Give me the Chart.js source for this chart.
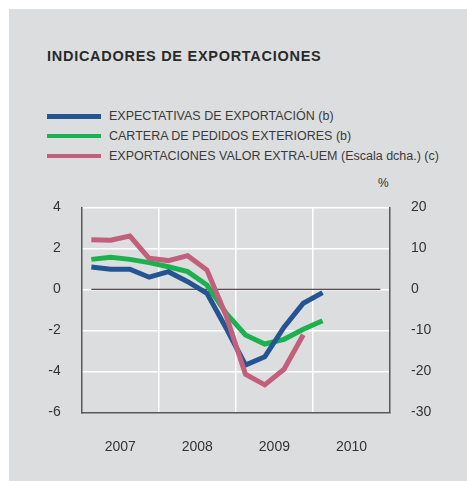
<!DOCTYPE html>
<html>
<head>
<meta charset="utf-8">
<script src="https://cdn.jsdelivr.net/npm/chart.js@4"></script>
<style>
  body { margin: 0; background: #fff; font-family: "Liberation Sans", Arial, sans-serif; color: #333; }
  #panel { position: absolute; left: 9px; top: 9px; width: 458px; height: 472px; background: #dcdddf; }
  .abs { position: absolute; white-space: nowrap; }
  #title { left: 47px; top: 48px; font-size: 14.5px; line-height: 16px; font-weight: bold; letter-spacing: 0.72px; color: #2a2a2a; }
  .row { left: 47px; height: 16px; font-size: 12.5px; line-height: 16px; }
  .row .sw { position: absolute; left: 0; top: 6px; width: 54px; height: 4.5px; }
  .row .tx { position: absolute; left: 62px; top: 0; color: #3a3a3a; }
  #pct { left: 378px; top: 176px; font-size: 12px; line-height: 14px; }
  #chart { position: absolute; left: 9px; top: 190px; }
</style>
</head>
<body>
<div id="panel"></div>
<div id="title" class="abs">INDICADORES DE EXPORTACIONES</div>
<div id="legend"></div>
<div id="pct" class="abs">%</div>
<canvas id="chart" width="458" height="291"></canvas>
<script>
// quarterly data, 2007-I .. 2010-IV
const quarters = ['2007-I', '2007-II', '2007-III', '2007-IV',
  '2008-I', '2008-II', '2008-III', '2008-IV',
  '2009-I', '2009-II', '2009-III', '2009-IV',
  '2010-I', '2010-II', '2010-III', '2010-IV'];
const yearLabels = ['2007', '2008', '2009', '2010'];

const expectativas = [1.09, 0.98, 0.98, 0.59, 0.86, 0.37, -0.2, -1.9, -3.69, -3.29, -1.85, -0.68, -0.16];
const cartera = [1.46, 1.56, 1.46, 1.3, 1.1, 0.86, 0.21, -1.17, -2.23, -2.67, -2.44, -1.95, -1.53];
const exportaciones = [12.1, 11.95, 13.0, 7.56, 7.0, 8.2, 4.7, -6.5, -20.7, -23.3, -19.5, -11.1];

const seriesNames = ['EXPECTATIVAS DE EXPORTACIÓN (b)', 'CARTERA DE PEDIDOS EXTERIORES (b)',
  'EXPORTACIONES VALOR EXTRA-UEM (Escala dcha.) (c)'];
const seriesColors = ['#245592', '#1bb14c', '#c25f7b'];

// legend (html)
const legend = document.getElementById('legend');
seriesNames.forEach((name, i) => {
  const row = document.createElement('div');
  row.className = 'abs row';
  row.style.top = (108 + i * 19.8) + 'px';
  row.innerHTML = '<span class="sw" style="background:' + seriesColors[i] + '"></span><span class="tx">' + name + '</span>';
  legend.appendChild(row);
});

const romans = ['I', 'II', 'III', 'IV'];
function qx(label) {
  const [y, r] = label.split('-');
  return +y + (romans.indexOf(r) + 0.5) / 4;
}
const toPoints = arr => arr.map((v, i) => ({ x: qx(quarters[i]), y: v }));

const firstYear = +yearLabels[0];
const lastYear = +yearLabels[yearLabels.length - 1] + 1;

// fixed axis sizes, and no extra label padding pushing the plot down
const fixWidth = w => s => { s.width = w; s.paddingTop = 0; s.paddingBottom = 0; };

new Chart(document.getElementById('chart'), {
  type: 'line',
  data: {
    datasets: [
      {
        label: 'cero',
        data: quarters.filter((q, i) => i === 0 || i === quarters.length - 1).map(q => ({ x: qx(q), y: 0 })),
        borderColor: '#2a2024',
        borderWidth: 1,
        yAxisID: 'y',
        order: 10
      },
      { label: seriesNames[1], data: toPoints(cartera), borderColor: seriesColors[1], yAxisID: 'y', order: 3 },
      { label: seriesNames[0], data: toPoints(expectativas), borderColor: seriesColors[0], yAxisID: 'y', order: 2 },
      { label: seriesNames[2], data: toPoints(exportaciones), borderColor: seriesColors[2], yAxisID: 'y1', order: 1 }
    ].map(d => Object.assign({ borderWidth: 5, pointRadius: 0, tension: 0, fill: false }, d))
  },
  options: {
    responsive: false,
    devicePixelRatio: 1,
    animation: false,
    layout: { padding: { top: 17.3, left: 0, right: 0, bottom: 0 } },
    plugins: { legend: { display: false }, tooltip: { enabled: false } },
    scales: {
      x: {
        type: 'linear',
        min: firstYear,
        max: lastYear,
        afterBuildTicks: s => {
          const t = [];
          yearLabels.forEach(y => { t.push({ value: +y }); t.push({ value: +y + 0.5 }); });
          t.push({ value: lastYear });
          s.ticks = t;
        },
        afterFit: s => { s.height = 68.7; s.paddingLeft = 0; s.paddingRight = 0; },
        grid: {
          drawTicks: false,
          lineWidth: 1.5,
          color: ctx => {
            const v = ctx.tick && ctx.tick.value;
            return (Number.isInteger(v) && v > firstYear && v < lastYear) ? '#ffffff' : 'rgba(0,0,0,0)';
          }
        },
        border: { color: '#58595b', width: 1.5 },
        ticks: {
          autoSkip: false,
          maxRotation: 0,
          padding: 26,
          color: '#333',
          font: { family: 'Liberation Sans', size: 14 },
          callback: v => (v % 1 === 0.5 ? String(Math.floor(v)) : '')
        }
      },
      y: {
        position: 'left',
        min: -6,
        max: 4,
        afterFit: fixWidth(72.7),
        grid: {
          drawTicks: false,
          lineWidth: 1.5,
          color: ctx => (ctx.tick && ctx.tick.value === -6 ? 'rgba(0,0,0,0)' : '#ffffff')
        },
        border: { color: '#58595b', width: 1.5 },
        ticks: { stepSize: 2, padding: 21, color: '#333', font: { family: 'Liberation Sans', size: 14 } }
      },
      y1: {
        position: 'right',
        min: -30,
        max: 20,
        afterFit: fixWidth(77),
        grid: { display: false, drawTicks: false },
        border: { color: '#58595b', width: 1.5 },
        ticks: { stepSize: 10, padding: 21, color: '#333', font: { family: 'Liberation Sans', size: 14 } }
      }
    }
  }
});
</script>
</body>
</html>
